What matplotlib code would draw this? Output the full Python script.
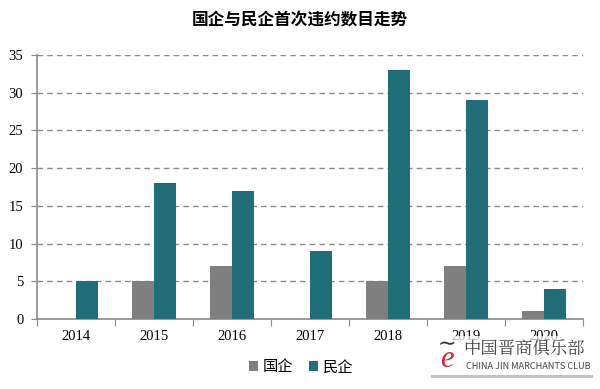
import matplotlib
matplotlib.use('Agg')
import matplotlib.pyplot as plt
import numpy as np

years = ['2014', '2015', '2016', '2017', '2018', '2019', '2020']
soe = [0, 5, 7, 0, 5, 7, 1]        # 国企
private = [5, 18, 17, 9, 33, 29, 4]  # 民企

plt.rcParams['font.family'] = ['Noto Sans CJK SC', 'DejaVu Sans']

fig = plt.figure(figsize=(6, 3.89), dpi=100)
ax = fig.add_axes([0.062, 0.18, 0.91, 0.679])

x = np.arange(len(years))
w = 0.28
ax.bar(x - w/2, soe, w, color='#7f7f7f', label='国企', zorder=3)
ax.bar(x + w/2, private, w, color='#1f6e78', label='民企', zorder=3)

ax.set_xlim(-0.5, len(years) - 0.5)
ax.set_ylim(0, 35)
ax.set_yticks(range(0, 36, 5))
ax.yaxis.grid(True, ls=(0, (4, 3)), color='#8a8a8a', lw=1, zorder=0)

ax.set_xticks(np.arange(-0.5, len(years), 1))
ax.set_xticklabels([])
ax.set_xticks(x, minor=True)
ax.set_xticklabels(years, minor=True, family='Liberation Serif', fontsize=10.5)
ax.tick_params(axis='x', which='minor', length=0, pad=8)
ax.tick_params(axis='x', which='major', length=5, direction='out', color='#8a8a8a')
ax.tick_params(axis='y', length=4, color='#8a8a8a', pad=6)
for lab in ax.get_yticklabels():
    lab.set_family('Liberation Serif')
    lab.set_fontsize(10.5)

for s in ('top', 'right'):
    ax.spines[s].set_visible(False)
for s in ('left', 'bottom'):
    ax.spines[s].set_color('#8a8a8a')
    ax.spines[s].set_linewidth(1.2)

fig.text(0.5, 0.947, '国企与民企首次违约数目走势', ha='center', va='center',
         fontsize=12, fontweight='bold')

fig.legend(loc='center', bbox_to_anchor=(0.502, 0.057), ncol=2, frameon=False,
           fontsize=11, handlelength=0.6, handleheight=0.6, handletextpad=0.3,
           columnspacing=1.0)

# watermark
fig.patches.append(plt.Rectangle((0.715, 0.035), 0.27, 0.1, transform=fig.transFigure,
                                 facecolor='white', alpha=0.7, edgecolor='none', zorder=5))
fig.patches.append(plt.Rectangle((0.718, 0.028), 0.27, 0.007, transform=fig.transFigure,
                                 facecolor='#9a9a9a', alpha=0.6, edgecolor='none', zorder=5))
fig.text(0.772, 0.103, '中国晋商俱乐部', fontsize=12.5, color='#444444', va='center',
         family=['Noto Serif CJK SC', 'Noto Sans CJK SC'], zorder=6)
fig.text(0.776, 0.057, 'CHINA JIN MARCHANTS CLUB', fontsize=6.6, color='#444444',
         ha='left', va='center', zorder=6)
fig.text(0.745, 0.075, 'e', fontsize=22, color='#d0203a', ha='center', va='center',
         style='italic', family='Liberation Serif', zorder=6)
fig.text(0.745, 0.115, '∼', fontsize=16, color='#333333', ha='center', va='center',
         family='DejaVu Sans', zorder=6)

fig.savefig('out.png', dpi=100)
